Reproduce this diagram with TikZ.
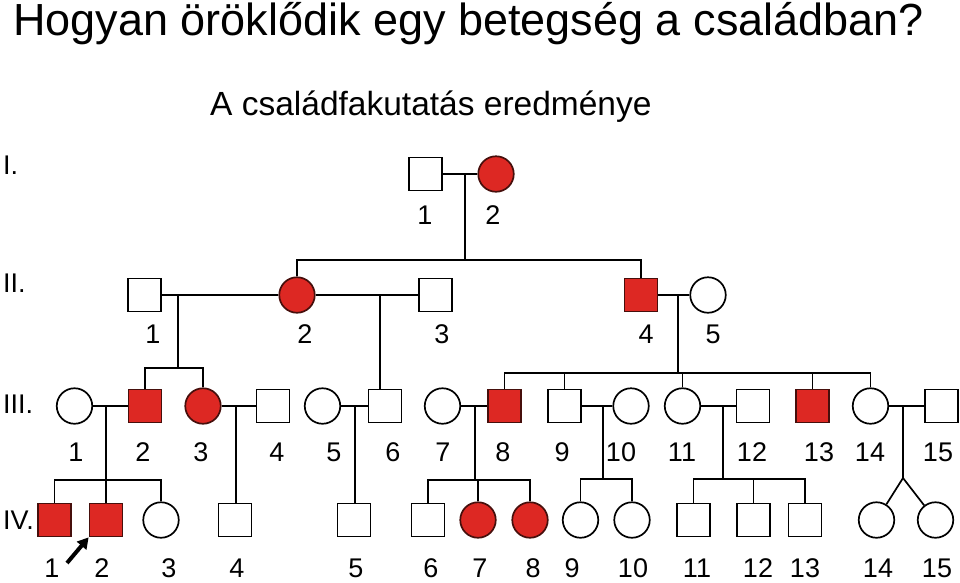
\documentclass[tikz,border=0pt]{standalone}
\usepackage{fontspec}
\setmainfont{Liberation Sans}
\usetikzlibrary{arrows.meta}
\definecolor{affred}{RGB}{221,40,35}
\definecolor{affline}{RGB}{70,15,12}
\begin{document}
\begin{tikzpicture}[x=1pt,y=-1pt,
  every node/.style={inner sep=0pt},
  conn/.style={line width=1.7pt, black},
  male/.style={draw, line width=1.7pt, minimum size=33pt, fill=white},
  female/.style={circle, draw, line width=1.7pt, minimum size=35.5pt, fill=white},
  aff/.style={fill=affred, draw=affline},
  num/.style={font=\fontsize{27}{27}\selectfont, anchor=center},
  gen/.style={font=\fontsize{27}{27}\selectfont, anchor=west}]
\useasboundingbox (0,0) rectangle (960,582);

% titles
\node[anchor=base west, font=\fontsize{45}{45}\selectfont] (title) at (13,35) {Hogyan öröklődik egy betegség a családban?};
\node[anchor=base west, font=\fontsize{33.5}{33.5}\selectfont] (subtitle) at (210,115) {A családfakutatás eredménye};

% generation labels
\node[gen] (gI) at (3,165) {I.};
\node[gen] (gII) at (3,283) {II.};
\node[gen] (gIII) at (3,404) {III.};
\node[gen] (gIV) at (3,520) {IV.};

% generation I
\node[male] (i1) at (425.5,174) {};
\node[female,aff] (i2) at (496,174) {};
% generation II
\node[male] (ii1) at (144.5,295) {};
\node[female,aff] (ii2) at (297,295) {};
\node[male] (ii3) at (435.5,295) {};
\node[male,aff] (ii4) at (641,295) {};
\node[female] (ii5) at (708,295) {};
% generation III
\node[female] (iii1) at (74.5,406) {};
\node[male,aff] (iii2) at (145,406) {};
\node[female,aff] (iii3) at (203,406) {};
\node[male] (iii4) at (273,406) {};
\node[female] (iii5) at (322.5,406) {};
\node[male] (iii6) at (385,406) {};
\node[female] (iii7) at (442.5,406) {};
\node[male,aff] (iii8) at (504.5,406) {};
\node[male] (iii9) at (564.5,406) {};
\node[female] (iii10) at (631,406) {};
\node[female] (iii11) at (682.5,406) {};
\node[male] (iii12) at (753,406) {};
\node[male,aff] (iii13) at (812.5,406) {};
\node[female] (iii14) at (870.5,406) {};
\node[male] (iii15) at (941.5,406) {};
% generation IV
\node[male,aff] (iv1) at (54.5,520) {};
\node[male,aff] (iv2) at (106,520) {};
\node[female] (iv3) at (161,520) {};
\node[male] (iv4) at (235,520) {};
\node[male] (iv5) at (354,520) {};
\node[male] (iv6) at (428,520) {};
\node[female,aff] (iv7) at (478,520) {};
\node[female,aff] (iv8) at (530,520) {};
\node[female] (iv9) at (580.5,520) {};
\node[female] (iv10) at (632,520) {};
\node[male] (iv11) at (693.5,520) {};
\node[male] (iv12) at (753.5,520) {};
\node[male] (iv13) at (805,520) {};
\node[female] (iv14) at (876.5,520) {};
\node[female] (iv15) at (935.5,520) {};

% junction coordinates
\coordinate (mI) at (465,174);   \coordinate (sI) at (465,260);
\coordinate (mA) at (178,295);   \coordinate (sA) at (178,368);
\coordinate (mB) at (380,295);
\coordinate (mC) at (678,295);   \coordinate (sC) at (678,373);
\coordinate (mD) at (106,406);   \coordinate (sD) at (106,480);
\coordinate (mE) at (236,406);
\coordinate (mF) at (355,406);
\coordinate (mG) at (475,406);   \coordinate (sG) at (475,480);
\coordinate (mH) at (603,406);   \coordinate (sH) at (603,479);
\coordinate (mJ) at (723,406);   \coordinate (sJ) at (723,479);
\coordinate (mK) at (903,406);   \coordinate (sK) at (903,478);

% marriages
\draw[conn] (i1) -- (i2);
\draw[conn] (ii1) -- (ii2);
\draw[conn] (ii2) -- (ii3);
\draw[conn] (ii4) -- (ii5);
\draw[conn] (iii1) -- (iii2);
\draw[conn] (iii3) -- (iii4);
\draw[conn] (iii5) -- (iii6);
\draw[conn] (iii7) -- (iii8);
\draw[conn] (iii9) -- (iii10);
\draw[conn] (iii11) -- (iii12);
\draw[conn] (iii14) -- (iii15);
% descent I -> II
\draw[conn] (mI) -- (sI);
\draw[conn] (ii2) -- (ii2 |- sI) -- (ii4 |- sI) -- (ii4);
% II-1 x II-2
\draw[conn] (mA) -- (sA);
\draw[conn] (iii2) -- (iii2 |- sA) -- (iii3 |- sA) -- (iii3);
% II-2 x II-3
\draw[conn] (mB) -- (mB |- iii6.north);
% II-4 x II-5
\draw[conn] (mC) -- (sC);
\draw[conn] (iii8) -- (iii8 |- sC) -- (iii14 |- sC) -- (iii14);
\draw[conn] (iii9) -- (iii9 |- sC);
\draw[conn] (iii11) -- (iii11 |- sC);
\draw[conn] (iii13) -- (iii13 |- sC);
% III-1 x III-2
\draw[conn] (mD) -- (sD);
\draw[conn] (iv1) -- (iv1 |- sD) -- (iv3 |- sD) -- (iv3);
\draw[conn] (iv2) -- (iv2 |- sD);
% III-3 x III-4
\draw[conn] (mE) -- (mE |- iv4.north);
% III-5 x III-6
\draw[conn] (mF) -- (mF |- iv5.north);
% III-7 x III-8
\draw[conn] (mG) -- (sG);
\draw[conn] (iv6) -- (iv6 |- sG) -- (iv8 |- sG) -- (iv8);
\draw[conn] (iv7) -- (iv7 |- sG);
% III-9 x III-10
\draw[conn] (mH) -- (sH);
\draw[conn] (iv9) -- (iv9 |- sH) -- (iv10 |- sH) -- (iv10);
% III-11 x III-12
\draw[conn] (mJ) -- (sJ);
\draw[conn] (iv11) -- (iv11 |- sJ) -- (iv13 |- sJ) -- (iv13);
\draw[conn] (iv12) -- (iv12 |- sJ);
% III-14 x III-15 (twins)
\draw[conn] (mK) -- (sK);
\draw[conn] (iv14) -- (sK) -- (iv15);

% proband arrow
\coordinate (arrtail) at (67,563);
\draw[line width=4pt, -{Triangle[length=11pt,width=12pt]}] (arrtail) -- (iv2.south west);

% numbers
\node[num] (nI1) at (425,215) {1};
\node[num] (nI2) at (493,215) {2};
\node[num] (nII1) at (153,334) {1};
\node[num] (nII2) at (305,334) {2};
\node[num] (nII3) at (442,334) {3};
\node[num] (nII4) at (646,334) {4};
\node[num] (nII5) at (713,334) {5};
\node[num] (nIII1) at (76,452) {1};
\node[num] (nIII2) at (143,452) {2};
\node[num] (nIII3) at (201,452) {3};
\node[num] (nIII4) at (277,452) {4};
\node[num] (nIII5) at (334,452) {5};
\node[num] (nIII6) at (393,452) {6};
\node[num] (nIII7) at (443,452) {7};
\node[num] (nIII8) at (503,452) {8};
\node[num] (nIII9) at (562,452) {9};
\node[num] (nIII10) at (621,452) {10};
\node[num] (nIII11) at (682,452) {11};
\node[num] (nIII12) at (752,452) {12};
\node[num] (nIII13) at (819,452) {13};
\node[num] (nIII14) at (870,452) {14};
\node[num] (nIII15) at (938,452) {15};
\node[num] (nIV1) at (52,568) {1};
\node[num] (nIV2) at (102,568) {2};
\node[num] (nIV3) at (169,568) {3};
\node[num] (nIV4) at (237,568) {4};
\node[num] (nIV5) at (356,568) {5};
\node[num] (nIV6) at (431,568) {6};
\node[num] (nIV7) at (480,568) {7};
\node[num] (nIV8) at (533,568) {8};
\node[num] (nIV9) at (572,568) {9};
\node[num] (nIV10) at (633,568) {10};
\node[num] (nIV11) at (697,568) {11};
\node[num] (nIV12) at (758,568) {12};
\node[num] (nIV13) at (805,568) {13};
\node[num] (nIV14) at (878,568) {14};
\node[num] (nIV15) at (937,568) {15};
\end{tikzpicture}
\end{document}
